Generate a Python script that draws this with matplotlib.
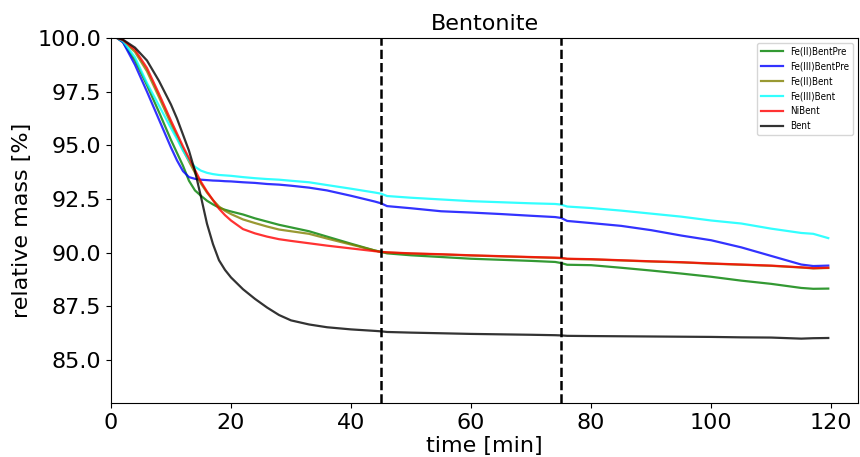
import matplotlib
matplotlib.use("Agg")
import matplotlib.pyplot as plt

t = [1, 2, 4, 6, 8, 10, 11, 12, 13, 14, 15, 16, 17, 18, 19, 20, 22, 24, 26, 28, 30,
     33, 36, 40, 44, 45, 46, 50, 55, 60, 65, 70, 74, 75, 76, 80, 85, 90, 95, 100,
     105, 110, 115, 117, 119.5]

fe2_bent_pre = [100, 99.8, 98.95, 97.8, 96.55, 95.25, 94.65, 94.05, 93.35, 92.9, 92.65,
                92.42, 92.25, 92.1, 92.0, 91.92, 91.78, 91.6, 91.45, 91.3, 91.18,
                91.0, 90.75, 90.42, 90.1, 90.04, 89.97, 89.88, 89.8, 89.72, 89.67,
                89.62, 89.57, 89.52, 89.44, 89.42, 89.3, 89.17, 89.03, 88.88,
                88.7, 88.55, 88.36, 88.32, 88.33]

fe3_bent_pre = [100, 99.8, 98.75, 97.5, 96.2, 94.9, 94.3, 93.8, 93.52, 93.44, 93.4,
                93.38, 93.36, 93.35, 93.33, 93.32, 93.28, 93.25, 93.2, 93.17, 93.12,
                93.03, 92.9, 92.65, 92.38, 92.3, 92.17, 92.07, 91.93, 91.87, 91.8,
                91.72, 91.66, 91.62, 91.48, 91.38, 91.25, 91.05, 90.8, 90.58,
                90.25, 89.85, 89.45, 89.38, 89.4]

fe2_bent = [100, 99.88, 99.35, 98.45, 97.25, 96.0, 95.4, 94.8, 94.25, 93.72, 93.22,
            92.8, 92.45, 92.15, 91.95, 91.8, 91.55, 91.38, 91.22, 91.08, 91.0,
            90.88, 90.66, 90.38, 90.1, 90.04, 90.01, 89.96, 89.92, 89.87, 89.83,
            89.79, 89.76, 89.75, 89.71, 89.69, 89.64, 89.59, 89.55, 89.49,
            89.44, 89.39, 89.31, 89.27, 89.29]

fe3_bent = [100, 99.85, 99.1, 97.9, 96.85, 95.8, 95.3, 94.75, 94.3, 94.0, 93.82,
            93.72, 93.66, 93.62, 93.6, 93.58, 93.52, 93.47, 93.43, 93.4, 93.35,
            93.28, 93.15, 92.98, 92.8, 92.75, 92.64, 92.56, 92.48, 92.4, 92.35,
            92.3, 92.27, 92.24, 92.15, 92.08, 91.96, 91.82, 91.68, 91.5,
            91.36, 91.12, 90.92, 90.88, 90.68]

ni_bent = [100, 99.9, 99.45, 98.6, 97.4, 96.15, 95.55, 94.95, 94.4, 93.85, 93.3,
           92.85, 92.45, 92.05, 91.75, 91.5, 91.1, 90.9, 90.75, 90.63, 90.55,
           90.44, 90.33, 90.2, 90.07, 90.04, 90.02, 89.97, 89.93, 89.88, 89.84,
           89.8, 89.77, 89.76, 89.72, 89.7, 89.65, 89.6, 89.56, 89.5,
           89.45, 89.4, 89.32, 89.28, 89.3]

bent = [100, 99.92, 99.55, 98.95, 98.0, 96.9, 96.25, 95.5, 94.75, 93.8, 92.6,
        91.35, 90.4, 89.65, 89.2, 88.85, 88.3, 87.85, 87.45, 87.1, 86.85,
        86.66, 86.53, 86.43, 86.36, 86.34, 86.31, 86.28, 86.25, 86.22, 86.2,
        86.18, 86.16, 86.15, 86.13, 86.12, 86.11, 86.1, 86.09, 86.08,
        86.06, 86.05, 86.0, 86.02, 86.03]

series = [
    ("Fe(II)BentPre", fe2_bent_pre, "green"),
    ("Fe(III)BentPre", fe3_bent_pre, "blue"),
    ("Fe(II)Bent", fe2_bent, "olive"),
    ("Fe(III)Bent", fe3_bent, "cyan"),
    ("NiBent", ni_bent, "red"),
    ("Bent", bent, "black"),
]

vlines = [45, 75]

fig = plt.figure(figsize=(8.6, 4.57), dpi=100)
ax = fig.add_axes([0.129, 0.118, 0.869, 0.799])

for name, vals, col in series:
    ax.plot(t, vals, color=col, alpha=0.8, lw=1.6, label=name)

for v in vlines:
    ax.axvline(v, color="black", ls="--", lw=1.8)

ax.set_xlim(0, 124.5)
ax.set_ylim(83, 100)
ax.set_yticks([85.0, 87.5, 90.0, 92.5, 95.0, 97.5, 100.0])
ax.set_xticks([0, 20, 40, 60, 80, 100, 120])
ax.tick_params(labelsize=16)
ax.set_xlabel("time [min]", fontsize=16, labelpad=2)
ax.set_ylabel("relative mass [%]", fontsize=16)
ax.set_title("Bentonite", fontsize=16)
ax.legend(loc="upper right", prop={"size": 7, "stretch": "condensed"},
          handlelength=2.2)

fig.savefig("out.png", dpi=100)
